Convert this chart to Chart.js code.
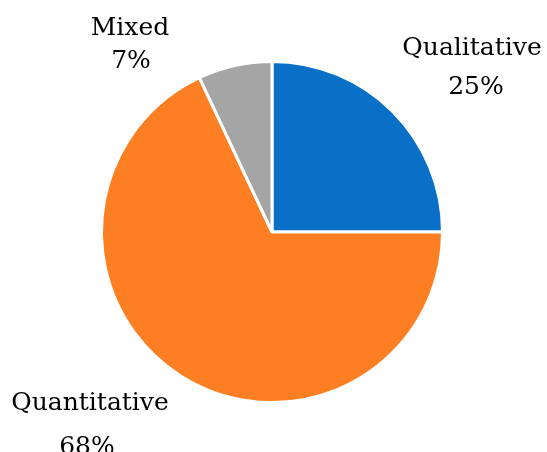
<!DOCTYPE html>
<html>
<head>
<meta charset="utf-8">
<script src="https://cdn.jsdelivr.net/npm/chart.js@4/dist/chart.umd.min.js"></script>
<style>
  html, body { margin: 0; padding: 0; background: #fff; }
  #wrap { width: 547px; height: 452px; }
</style>
</head>
<body>
<div id="wrap"><canvas id="myChart"></canvas></div>
<script>
// data
const categories = ['Qualitative', 'Quantitative', 'Mixed'];
const shares = [25, 68, 7];
const colors = ['#0A6FC6', '#FD7E23', '#A5A5A5'];

// where each label sits (line 1 and line 2 centres, in px)
const labelSpots = [
  [[472, 48], [476, 87]],
  [[90, 403], [87, 447]],
  [[130, 28], [131, 61]]
];

const sliceLabels = {
  id: 'sliceLabels',
  afterDatasetsDraw(chart) {
    const ctx = chart.ctx;
    ctx.save();
    ctx.font = '25px "DejaVu Serif"';
    ctx.fillStyle = '#000';
    ctx.textAlign = 'center';
    ctx.textBaseline = 'middle';
    chart.data.labels.forEach(function (lab, i) {
      const v = chart.data.datasets[0].data[i];
      const spot = labelSpots[i];
      ctx.fillText(lab, spot[0][0], spot[0][1]);
      ctx.fillText(v + '%', spot[1][0], spot[1][1]);
    });
    ctx.restore();
  }
};

const myChart = new Chart(document.getElementById('myChart'), {
  type: 'pie',
  data: {
    labels: categories,
    datasets: [{
      data: shares,
      backgroundColor: colors,
      borderColor: '#ffffff',
      borderWidth: 3
    }]
  },
  options: {
    responsive: true,
    maintainAspectRatio: false,
    animation: false,
    layout: { padding: { top: 60, bottom: 48, left: 100, right: 103 } },
    plugins: {
      legend: { display: false },
      tooltip: { enabled: false }
    }
  },
  plugins: [sliceLabels]
});
</script>
</body>
</html>
